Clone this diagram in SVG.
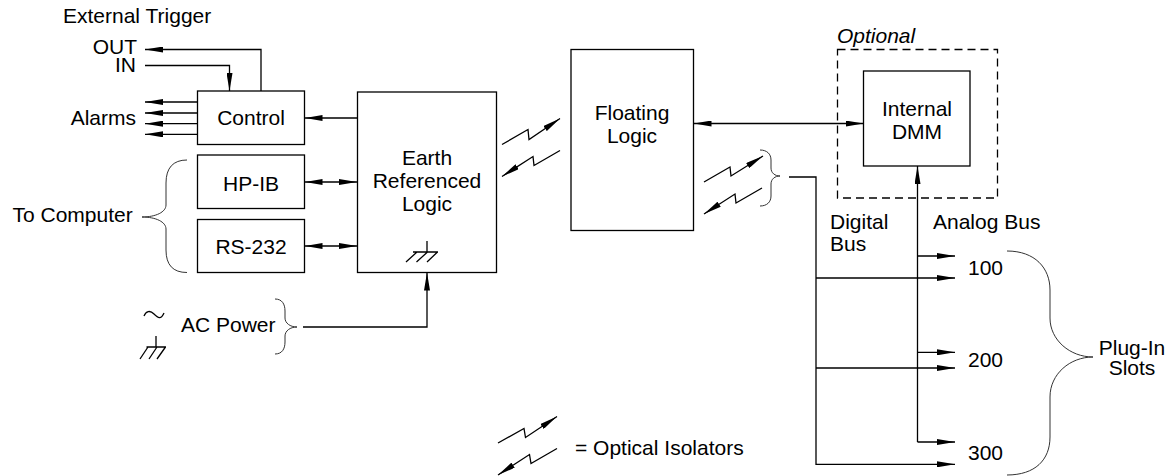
<svg xmlns="http://www.w3.org/2000/svg" width="1168" height="476" viewBox="0 0 1168 476">
<style>
text{font-family:"Liberation Sans",Arial,Helvetica,sans-serif;font-size:21px;fill:#000}
.m{text-anchor:middle}
.e{text-anchor:end}
.box{fill:#fff;stroke:#000;stroke-width:1.3}
.ln{fill:none;stroke:#000;stroke-width:1.3}
.br{fill:none;stroke:#333;stroke-width:1}
.ae{marker-end:url(#ah)}
.ab{marker-start:url(#ah);marker-end:url(#ah)}
</style>
<defs>
<marker id="ah" viewBox="0 0 18 6" refX="18" refY="3" markerWidth="18" markerHeight="6" markerUnits="userSpaceOnUse" orient="auto-start-reverse">
<path d="M0,0 L18,3 L0,6 z" fill="#000"/>
</marker>
</defs>
<rect width="1168" height="476" fill="#fff"/>

<g id="connectors">
<path class="ln ae" d="M261,91 V49.5 H145"/>
<path class="ln ae" d="M145,65.5 H229.5 V91"/>
<path class="ln ae" d="M197,102 H145"/>
<path class="ln ae" d="M197,113 H145"/>
<path class="ln ae" d="M197,123.7 H145"/>
<path class="ln ae" d="M197,134.3 H145"/>
<path class="ln ae" d="M357,118 H304.5"/>
<path class="ln ab" d="M304.5,182 H357"/>
<path class="ln ab" d="M304.5,246 H357"/>
<path class="ln ae" d="M303,327 H427 V272.5"/>
<path class="ln ab" d="M693.5,123.5 H863.5"/>
<path class="ln ae" d="M917.5,442 V166"/>
<path class="ln ae" d="M917.5,256 H955"/>
<path class="ln ae" d="M917.5,352.3 H955"/>
<path class="ln ae" d="M917.5,442 H955"/>
<path class="ln ae" d="M789,177 H816 V464.3 H955"/>
<path class="ln ae" d="M816,278 H955"/>
<path class="ln ae" d="M816,368 H955"/>
<path class="ln ae" d="M502,144.5 L528,129.5 L529,139.5 L560,118.5"/>
<path class="ln ae" d="M560,150.5 L534,165.5 L533,156.5 L502,176.5"/>
<path class="ln ae" d="M704,182 L730,167 L731,176 L763,156"/>
<path class="ln ae" d="M762,188 L736,203 L735,194 L704,214"/>
</g>

<g id="external-trigger">
<text x="63" y="23">External Trigger</text>
<text class="e"><tspan x="137" y="54">OUT</tspan><tspan x="136" y="71.5">IN</tspan></text>
</g>
<g id="alarms"><text class="e" x="136" y="124.5">Alarms</text></g>

<g id="control">
<rect class="box" x="197.5" y="91" width="107" height="53.5"/>
<text class="m" x="251" y="124.5">Control</text>
</g>
<g id="hpib">
<rect class="box" x="197.5" y="155" width="107" height="53.5"/>
<text class="m" x="251" y="190.5">HP-IB</text>
</g>
<g id="rs232">
<rect class="box" x="197.5" y="219.5" width="107" height="53"/>
<text class="m" x="251" y="254">RS-232</text>
</g>
<g id="to-computer">
<path class="br" d="M187,160 C173,160 166,168 166,183 V205 C166,212 156,217 142,217 C156,217 166,222 166,229 V250 C166,265 173,272.5 187,272.5"/>
<text x="12.5" y="222">To Computer</text>
</g>

<g id="ac-power">
<path class="ln" d="M144,316 C146,311 150,310 154,314 S161,320 164,313" stroke-width="1"/>
<path class="ln" stroke-width="1" d="M156,336 V347 M146.5,347 H166 M148,347 L140,359 M157,347 L149,359 M165.5,347 L157,359"/>
<text x="181" y="332">AC Power</text>
<path class="br" d="M275,299 C282,299 285,304 285,311 V318 C285,323 290,327 297,327 C290,327 285,331 285,336 V342 C285,349 282,354 275,354"/>
</g>

<g id="earth-logic">
<rect class="box" x="357.5" y="92" width="139" height="180.5"/>
<text class="m" x="427" y="165">Earth</text>
<text class="m" x="427" y="188">Referenced</text>
<text class="m" x="427" y="211">Logic</text>
<path class="ln" stroke-width="1" d="M427,241 V252 M413,252 H438 M417,252 L406,262 M427.5,252 L416.5,262 M437.5,252 L427,262"/>
</g>

<g id="floating-logic">
<rect class="box" x="571" y="49.5" width="122.5" height="181"/>
<text class="m" x="632" y="120">Floating</text>
<text class="m" x="632" y="143">Logic</text>
</g>
<g id="isolator-brace">
<path class="br" d="M760,150 C767,150 771,154 771,160 V168 C771,173 775,176 780,176 C775,176 771,179 771,184 V196 C771,202 767,206 760,206"/>
</g>

<g id="optional">
<rect x="837.5" y="49.5" width="160" height="148.5" fill="none" stroke="#000" stroke-width="1.3" stroke-dasharray="8 5"/>
<text x="837" y="42.5" font-style="italic">Optional</text>
</g>
<g id="internal-dmm">
<rect class="box" x="863.5" y="71" width="106.5" height="95"/>
<text class="m" x="917" y="116">Internal</text>
<text class="m" x="917" y="138.5">DMM</text>
</g>

<g id="bus-labels">
<text x="830" y="228.5">Digital</text>
<text x="830" y="251">Bus</text>
<text x="933" y="228.5">Analog Bus</text>
</g>

<g id="slots">
<text x="968" y="275">100</text>
<text x="968" y="366.7">200</text>
<text x="968" y="460">300</text>
<path class="br" d="M1007,251 C1035,251 1050,268 1050,290 V318 C1050,340 1070,357 1093,357 C1070,357 1050,374 1050,397 V437 C1050,460 1035,475 1007,475"/>
<text class="m"><tspan x="1132" y="354.5">Plug-In</tspan><tspan x="1132" y="374.5">Slots</tspan></text>
</g>

<g id="legend">
<path class="ln ae" d="M498,443 L524,428.5 L525.5,437.5 L557,416.5"/>
<path class="ln ae" d="M557,448.5 L531,463.5 L529.5,454.5 L498,475"/>
<text x="575" y="455">= Optical Isolators</text>
</g>
</svg>
